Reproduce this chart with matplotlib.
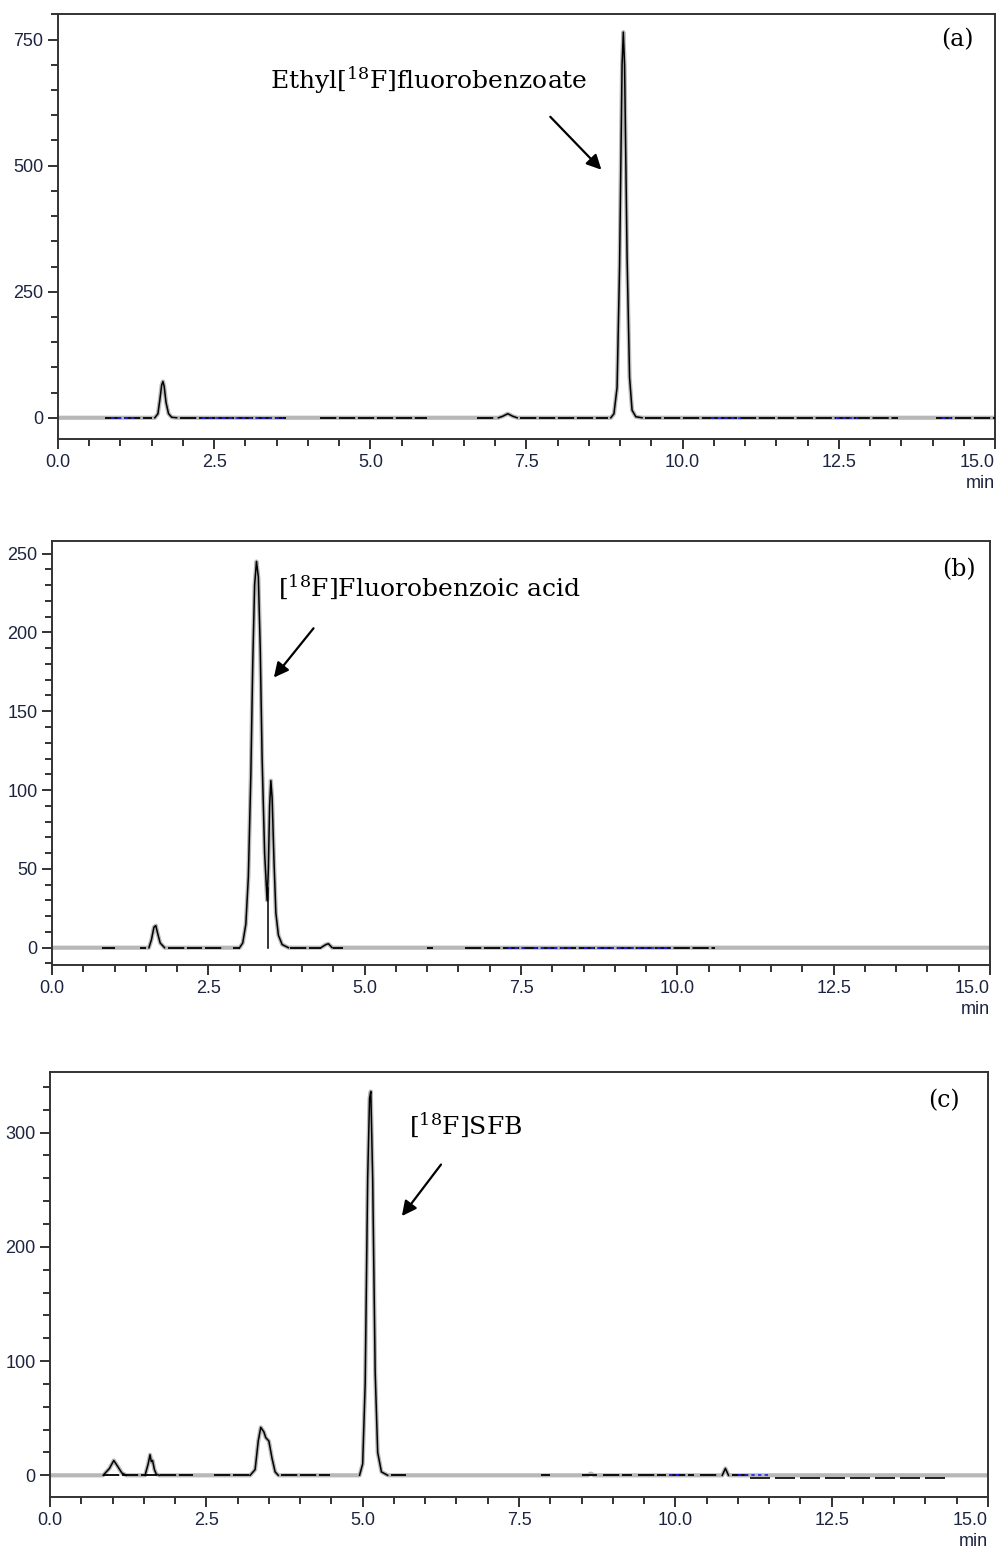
import matplotlib
matplotlib.use("Agg")
import matplotlib.pyplot as plt
import numpy as np
from matplotlib.ticker import MultipleLocator

plt.rcParams['font.family'] = ['Liberation Sans', 'DejaVu Sans']
plt.rcParams['mathtext.fontset'] = 'dejavuserif'

# ================= DATA =================
x_ticks = [0.0, 2.5, 5.0, 7.5, 10.0, 12.5, 15.0]
x_labels = ['0.0', '2.5', '5.0', '7.5', '10.0', '12.5', '15.0']

# panel (a): ethyl [18F]fluorobenzoate
a_time = [0.0, 1.55, 1.60, 1.63, 1.66, 1.68, 1.70, 1.73, 1.77, 1.82, 1.90,
          7.05, 7.12, 7.20, 7.28, 7.35,
          8.85, 8.90, 8.95, 8.99, 9.03, 9.05, 9.07, 9.11, 9.15, 9.19, 9.25, 9.35, 15.0]
a_signal = [0, 0, 8, 35, 65, 72, 62, 30, 8, 1, 0,
            0, 3, 8, 3, 0,
            0, 8, 60, 300, 700, 765, 700, 320, 80, 15, 2, 0, 0]
a_peaks = [(1.5, 1.95), (7.0, 7.4), (8.8, 9.4)]
a_base = [(0.75, 1.5), (1.95, 3.65), (4.2, 5.9), (6.7, 7.0), (7.4, 8.8),
          (9.4, 13.45), (14.05, 15.0)]
a_blue = [(0.85, 1.25), (2.3, 3.6), (10.45, 10.95), (12.45, 12.8), (14.15, 14.3)]

# panel (b): [18F]fluorobenzoic acid
b_time = [0.0, 1.55, 1.59, 1.63, 1.66, 1.69, 1.73, 1.80,
          3.00, 3.05, 3.10, 3.14, 3.18, 3.21, 3.24, 3.27, 3.30, 3.33, 3.36,
          3.40, 3.44, 3.46, 3.48, 3.50, 3.52, 3.55, 3.58, 3.62, 3.68, 3.78,
          4.30, 4.38, 4.42, 4.48, 15.0]
b_signal = [0, 0, 5, 13, 14, 9, 3, 0,
            0, 3, 15, 45, 110, 180, 230, 245, 235, 190, 120,
            60, 30, 50, 90, 106, 95, 55, 22, 8, 2, 0,
            0, 2, 2.5, 0, 0]
b_drop = (3.45, 38)
b_peaks = [(1.5, 1.85), (3.0, 3.8), (4.3, 4.5)]
b_base = [(0.8, 1.0), (1.4, 1.5), (1.85, 2.4), (2.45, 2.75), (2.9, 3.0),
          (3.8, 4.3), (4.5, 4.65), (6.0, 6.1), (6.6, 10.6)]
b_blue = [(7.3, 7.6), (7.7, 8.3), (8.5, 9.9)]

# panel (c): [18F]SFB
c_time = [0.0, 0.85, 0.95, 1.02, 1.08, 1.15, 1.22,
          1.52, 1.57, 1.60, 1.62, 1.64, 1.67, 1.70, 1.75,
          3.20, 3.28, 3.33, 3.37, 3.42, 3.45, 3.50, 3.55, 3.60, 3.65,
          4.95, 5.00, 5.04, 5.08, 5.11, 5.13, 5.16, 5.20, 5.24, 5.30, 5.40,
          8.60, 8.65, 8.70, 10.75, 10.80, 10.85, 15.0]
c_signal = [0, 0, 6, 13, 8, 2, 0,
            0, 10, 18, 12, 13, 5, 1, 0,
            0, 5, 30, 42, 38, 33, 30, 15, 3, 0,
            0, 10, 80, 260, 330, 336, 260, 90, 20, 3, 0,
            0, 1.5, 0, 0, 6, 0, 0]
c_peaks = [(0.8, 1.25), (1.5, 1.75), (3.2, 3.7), (4.9, 5.45), (10.7, 10.9)]
c_base = [(0.85, 2.28), (2.62, 3.2), (3.7, 4.48), (5.45, 5.7), (7.85, 8.0),
          (8.5, 8.75), (8.85, 9.3), (9.4, 9.85), (9.9, 10.3), (10.4, 10.7),
          (10.9, 11.2)]
c_steps = [(11.2, 14.4)]
c_blue = [(9.9, 10.1), (11.0, 11.5)]

# ================= PLOT =================
fig = plt.figure(figsize=(9.98, 15.51), dpi=100)

tick_color = '#1c2440'
serif = ['DejaVu Serif']


def draw_panel(ax, t, s, peaks, base, blue, ylim, ymajor, yminor):
    t = np.array(t)
    s = np.array(s, dtype=float)
    # grey raw trace
    ax.plot(t, s, color='#b8b8b8', lw=3.0, solid_joinstyle='round', zorder=2)
    # black integrated peaks
    for lo, hi in peaks:
        m = (t >= lo) & (t <= hi)
        ax.plot(t[m], s[m], color='black', lw=1.1, zorder=3)
    for lo, hi in base:
        ax.plot([lo, hi], [0, 0], color='black', lw=1.3,
                dashes=(9, 1.5), zorder=3)
    for lo, hi in blue:
        ax.plot([lo, hi], [0, 0], color='#2020ff', lw=1.2,
                dashes=(2, 2), zorder=4)
    ax.set_xlim(0, 15)
    ax.set_ylim(*ylim)
    ax.set_xticks(x_ticks)
    ax.set_xticklabels(x_labels)
    ax.xaxis.set_minor_locator(MultipleLocator(0.5))
    ax.yaxis.set_major_locator(MultipleLocator(ymajor))
    ax.yaxis.set_minor_locator(MultipleLocator(yminor))
    ax.tick_params(which='major', direction='out', length=7.5, width=1.3,
                   labelsize=13, labelcolor=tick_color, color='#222222', pad=3)
    ax.tick_params(which='minor', direction='out', length=5, width=1.3,
                   color='#222222')
    for sp in ax.spines.values():
        sp.set_linewidth(1.4)
        sp.set_color('#333333')
    ax.xaxis.get_major_ticks()[-1].label1.set_horizontalalignment('right')
    ax.text(1.0, -0.104, 'min', transform=ax.transAxes, ha='right', va='center',
            fontsize=13, color=tick_color)


# (a)
ax1 = fig.add_axes([0.0581, 0.7170, 0.9389, 0.2740])
draw_panel(ax1, a_time, a_signal, a_peaks, a_base, a_blue, (-42, 801), 250, 50)
ax1.text(14.4, 750, '(a)', family=serif, fontsize=17, ha='center', va='center')
ax1.text(5.93, 670, r'Ethyl[$^{18}$F]fluorobenzoate', family=serif,
         fontsize=18, ha='center', va='center')
ax1.annotate('', xy=(8.73, 488), xytext=(7.85, 601),
             arrowprops=dict(arrowstyle='-|>', color='black', lw=1.6,
                             mutation_scale=22))

# (b)
ax2 = fig.add_axes([0.0521, 0.3778, 0.9399, 0.2734])
draw_panel(ax2, b_time, b_signal, b_peaks, b_base, b_blue, (-11, 258), 50, 10)
ax2.plot([b_drop[0], b_drop[0]], [0, b_drop[1]], color='black', lw=1.1, zorder=3)
ax2.text(14.5, 240, '(b)', family=serif, fontsize=17, ha='center', va='center')
ax2.text(6.03, 229, r'[$^{18}$F]Fluorobenzoic acid', family=serif,
         fontsize=18, ha='center', va='center')
ax2.annotate('', xy=(3.52, 170), xytext=(4.21, 204),
             arrowprops=dict(arrowstyle='-|>', color='black', lw=1.6,
                             mutation_scale=22))

# (c)
ax3 = fig.add_axes([0.0501, 0.0348, 0.9399, 0.2740])
draw_panel(ax3, c_time, c_signal, c_peaks, c_base, c_blue, (-19, 353), 100, 20)
for lo, hi in c_steps:
    ax3.plot([lo, hi], [-2, -2], color='black', lw=1.2, dashes=(12, 3), zorder=3)
ax3.text(14.3, 328, '(c)', family=serif, fontsize=17, ha='center', va='center')
ax3.text(6.65, 307, r'[$^{18}$F]SFB', family=serif,
         fontsize=18, ha='center', va='center')
ax3.annotate('', xy=(5.6, 225), xytext=(6.28, 274),
             arrowprops=dict(arrowstyle='-|>', color='black', lw=1.6,
                             mutation_scale=22))

fig.savefig('out.png', dpi=100)
